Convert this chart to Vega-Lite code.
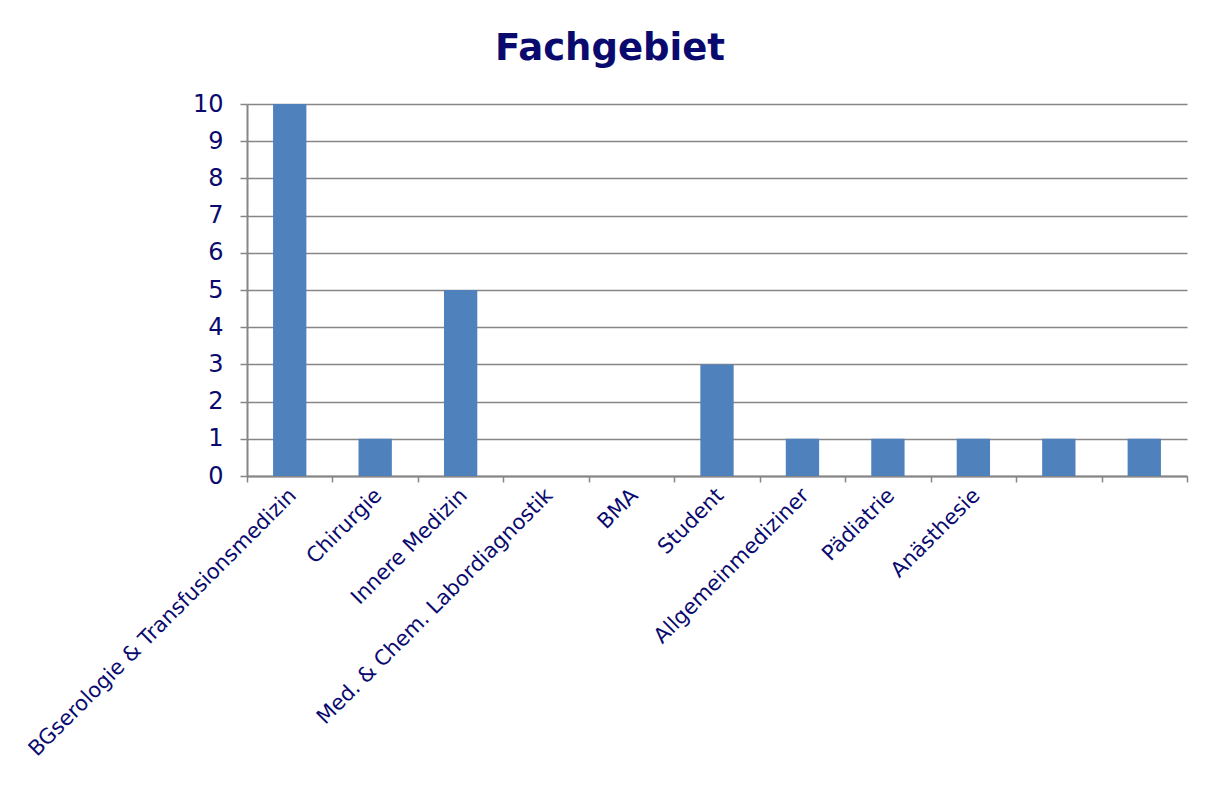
{
  "$schema": "https://vega.github.io/schema/vega-lite/v6.json",
  "autosize": "none",
  "width": 940,
  "height": 372,
  "padding": {"left": 247, "top": 104, "right": 26, "bottom": 311},
  "background": "white",
  "title": {
    "text": "Fachgebiet",
    "font": "DejaVu Sans",
    "fontSize": 37,
    "fontWeight": "bold",
    "color": "#0a0a6e",
    "anchor": "middle",
    "dx": -107,
    "offset": 24
  },
  "data": {
    "values": [
      {"Fachgebiet": "BGserologie & Transfusionsmedizin", "Anzahl": 10},
      {"Fachgebiet": "Chirurgie", "Anzahl": 1},
      {"Fachgebiet": "Innere Medizin", "Anzahl": 5},
      {"Fachgebiet": "Med. & Chem. Labordiagnostik", "Anzahl": 0},
      {"Fachgebiet": "BMA", "Anzahl": 0},
      {"Fachgebiet": "Student", "Anzahl": 3},
      {"Fachgebiet": "Allgemeinmediziner", "Anzahl": 1},
      {"Fachgebiet": "Pädiatrie", "Anzahl": 1},
      {"Fachgebiet": "Anästhesie", "Anzahl": 1},
      {"Fachgebiet": " ", "Anzahl": 1},
      {"Fachgebiet": "  ", "Anzahl": 1}
    ]
  },
  "mark": {"type": "bar", "color": "#4f81bd", "width": {"band": 0.39}},
  "encoding": {
    "x": {
      "field": "Fachgebiet",
      "type": "nominal",
      "sort": null,
      "scale": {"paddingInner": 0, "paddingOuter": 0},
      "axis": {
        "title": null,
        "labelAngle": -45,
        "labelAlign": "right",
        "labelBaseline": "middle",
        "labelFont": "DejaVu Sans",
        "labelFontSize": 21,
        "labelColor": "#0a0a6e",
        "labelPadding": 10,
        "labelOffset": 3,
        "tickBand": "extent",
        "tickColor": "#868686",
        "tickWidth": 1.5,
        "tickSize": 6,
        "domainColor": "#868686",
        "domainWidth": 2,
        "labelOverlap": false,
        "labelLimit": 0
      }
    },
    "y": {
      "field": "Anzahl",
      "type": "quantitative",
      "scale": {"domain": [0, 10], "nice": false},
      "axis": {
        "title": null,
        "values": [0, 1, 2, 3, 4, 5, 6, 7, 8, 9, 10],
        "labelFont": "DejaVu Sans",
        "labelFontSize": 24,
        "labelColor": "#0a0a6e",
        "labelPadding": 17,
        "tickColor": "#868686",
        "tickWidth": 1.5,
        "tickSize": 7,
        "domainColor": "#868686",
        "domainWidth": 2,
        "grid": true,
        "gridColor": "#868686",
        "gridWidth": 1.5
      }
    }
  },
  "config": {"view": {"stroke": null}}
}
